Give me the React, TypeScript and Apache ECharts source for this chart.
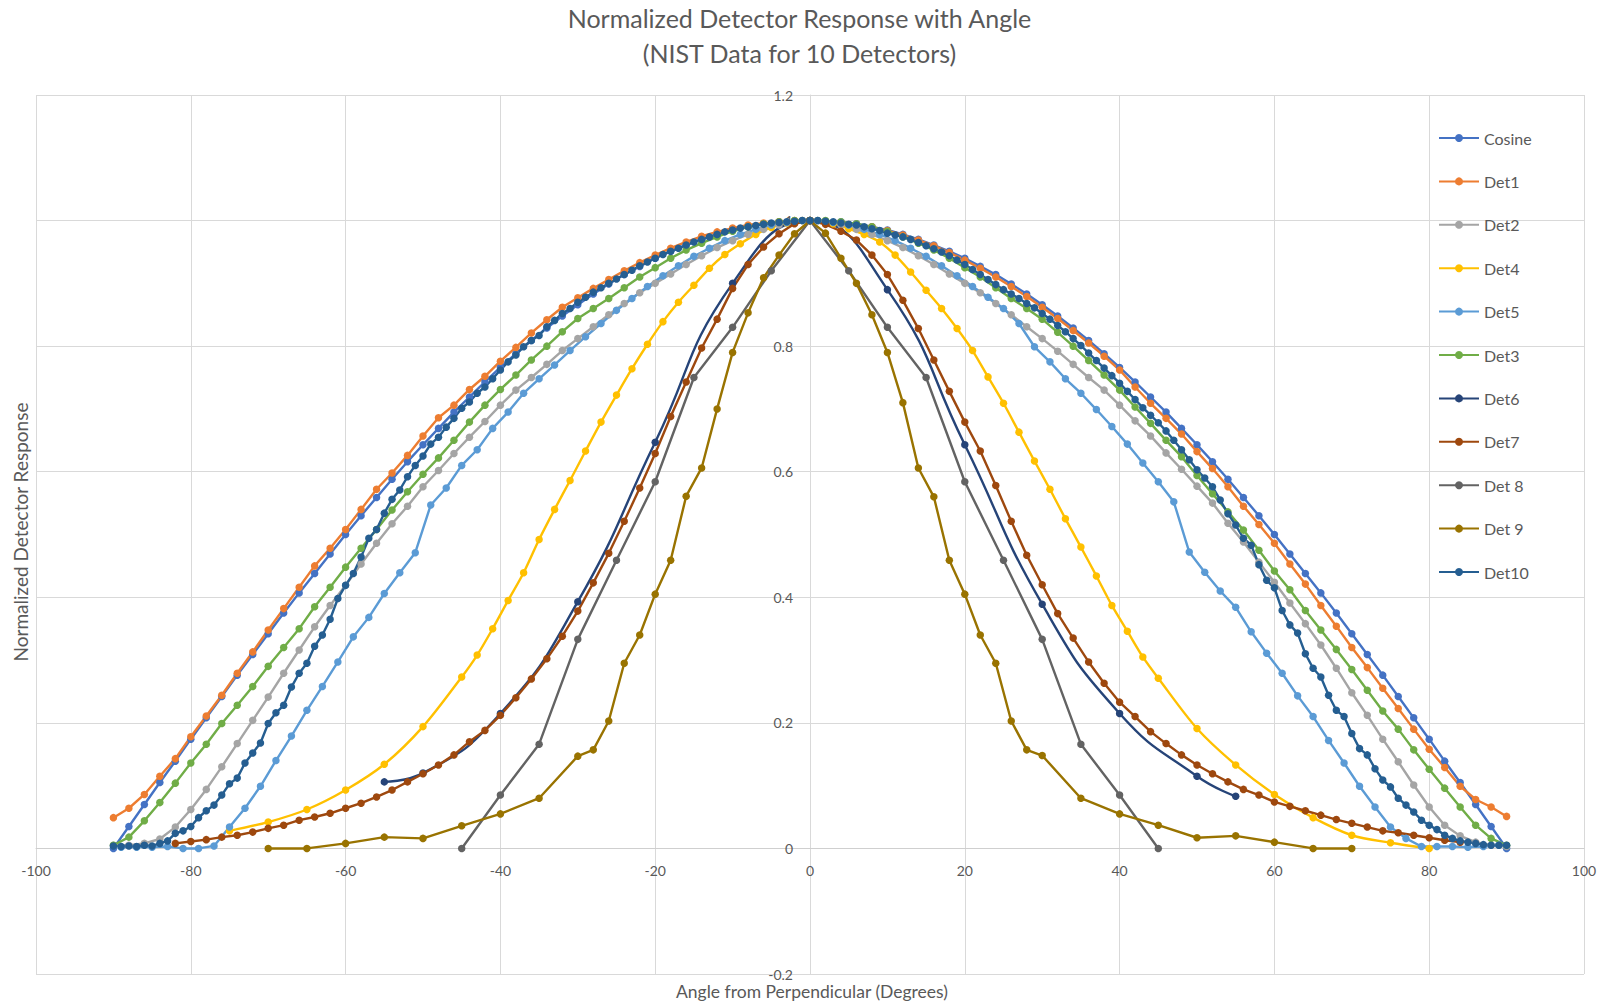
import React, { useEffect, useRef } from 'react';
import * as echarts from 'echarts';

const FONT = 'Lato, "Open Sans", sans-serif';
const TEXT_COLOR = '#595959';
const GRID_COLOR = '#D9D9D9';

const TITLE_LINES = ['Normalized Detector Response with Angle', '(NIST Data for 10 Detectors)'];
const X_TITLE = 'Angle from Perpendicular (Degrees)';
const Y_TITLE = 'Normalized Detector Response';

const SERIES_NAMES = ['Cosine', 'Det1', 'Det2', 'Det4', 'Det5', 'Det3', 'Det6', 'Det7', 'Det 8', 'Det 9', 'Det10'];
const SERIES_COLORS = ['#4472C4', '#ED7D31', '#A5A5A5', '#FFC000', '#5B9BD5', '#70AD47', '#264478', '#9E480E', '#636363', '#997300', '#255E91'];

const X_MIN = -100;
const X_MAX = 100;
const X_STEP = 20;
const Y_MIN = -0.2;
const Y_MAX = 1.2;
const Y_STEP = 0.2;

// angles every 2 degrees
const ANGLES_2 = [
  -90, -88, -86, -84, -82, -80, -78, -76, -74, -72,
  -70, -68, -66, -64, -62, -60, -58, -56, -54, -52,
  -50, -48, -46, -44, -42, -40, -38, -36, -34, -32,
  -30, -28, -26, -24, -22, -20, -18, -16, -14, -12,
  -10, -8, -6, -4, -2, 0, 2, 4, 6, 8,
  10, 12, 14, 16, 18, 20, 22, 24, 26, 28,
  30, 32, 34, 36, 38, 40, 42, 44, 46, 48,
  50, 52, 54, 56, 58, 60, 62, 64, 66, 68,
  70, 72, 74, 76, 78, 80, 82, 84, 86, 88,
  90,
];

// odd angles
const ANGLES_ODD = [
  -89, -87, -85, -83, -81, -79, -77, -75, -73, -71,
  -69, -67, -65, -63, -61, -59, -57, -55, -53, -51,
  -49, -47, -45, -43, -41, -39, -37, -35, -33, -31,
  -29, -27, -25, -23, -21, -19, -17, -15, -13, -11,
  -9, -7, -5, -3, -1, 1, 3, 5, 7, 9,
  11, 13, 15, 17, 19, 21, 23, 25, 27, 29,
  31, 33, 35, 37, 39, 41, 43, 45, 47, 49,
  51, 53, 55, 57, 59, 61, 63, 65, 67, 69,
  71, 73, 75, 77, 79, 81, 83, 85, 87, 89,
];

// every degree
const ANGLES_1 = [
  -90, -89, -88, -87, -86, -85, -84, -83, -82, -81,
  -80, -79, -78, -77, -76, -75, -74, -73, -72, -71,
  -70, -69, -68, -67, -66, -65, -64, -63, -62, -61,
  -60, -59, -58, -57, -56, -55, -54, -53, -52, -51,
  -50, -49, -48, -47, -46, -45, -44, -43, -42, -41,
  -40, -39, -38, -37, -36, -35, -34, -33, -32, -31,
  -30, -29, -28, -27, -26, -25, -24, -23, -22, -21,
  -20, -19, -18, -17, -16, -15, -14, -13, -12, -11,
  -10, -9, -8, -7, -6, -5, -4, -3, -2, -1,
  0, 1, 2, 3, 4, 5, 6, 7, 8, 9,
  10, 11, 12, 13, 14, 15, 16, 17, 18, 19,
  20, 21, 22, 23, 24, 25, 26, 27, 28, 29,
  30, 31, 32, 33, 34, 35, 36, 37, 38, 39,
  40, 41, 42, 43, 44, 45, 46, 47, 48, 49,
  50, 51, 52, 53, 54, 55, 56, 57, 58, 59,
  60, 61, 62, 63, 64, 65, 66, 67, 68, 69,
  70, 71, 72, 73, 74, 75, 76, 77, 78, 79,
  80, 81, 82, 83, 84, 85, 86, 87, 88, 89,
  90,
];

const COSINE_Y = [
  0, 0.035, 0.07, 0.105, 0.139, 0.174, 0.208, 0.242, 0.276, 0.309,
  0.342, 0.375, 0.407, 0.438, 0.469, 0.5, 0.53, 0.559, 0.588, 0.616,
  0.643, 0.669, 0.695, 0.719, 0.743, 0.766, 0.788, 0.809, 0.829, 0.848,
  0.866, 0.883, 0.899, 0.914, 0.927, 0.94, 0.951, 0.961, 0.97, 0.978,
  0.985, 0.99, 0.995, 0.998, 0.999, 1, 0.999, 0.998, 0.995, 0.99,
  0.985, 0.978, 0.97, 0.961, 0.951, 0.94, 0.927, 0.914, 0.899, 0.883,
  0.866, 0.848, 0.829, 0.809, 0.788, 0.766, 0.743, 0.719, 0.695, 0.669,
  0.643, 0.616, 0.588, 0.559, 0.53, 0.5, 0.469, 0.438, 0.407, 0.375,
  0.342, 0.309, 0.276, 0.242, 0.208, 0.174, 0.139, 0.105, 0.07, 0.035,
  0,
];

const DET1_Y = [
  0.049, 0.064, 0.086, 0.115, 0.143, 0.178, 0.211, 0.244, 0.279, 0.313,
  0.348, 0.382, 0.416, 0.45, 0.478, 0.508, 0.54, 0.572, 0.598, 0.626,
  0.657, 0.686, 0.706, 0.731, 0.752, 0.776, 0.798, 0.821, 0.842, 0.862,
  0.877, 0.892, 0.906, 0.92, 0.933, 0.945, 0.956, 0.966, 0.975, 0.982,
  0.988, 0.993, 0.996, 0.998, 1, 1, 0.999, 0.997, 0.994, 0.99,
  0.984, 0.977, 0.969, 0.96, 0.949, 0.937, 0.924, 0.91, 0.895, 0.879,
  0.862, 0.844, 0.825, 0.805, 0.784, 0.762, 0.735, 0.709, 0.685, 0.66,
  0.632, 0.605, 0.576, 0.545, 0.516, 0.486, 0.453, 0.421, 0.387, 0.354,
  0.32, 0.288, 0.255, 0.223, 0.19, 0.158, 0.129, 0.099, 0.078, 0.066,
  0.051,
];

const DET2_Y = [
  0.005, 0.005, 0.008, 0.015, 0.034, 0.062, 0.094, 0.13, 0.167, 0.204,
  0.241, 0.279, 0.316, 0.353, 0.387, 0.419, 0.453, 0.486, 0.517, 0.545,
  0.576, 0.602, 0.629, 0.655, 0.68, 0.706, 0.73, 0.75, 0.771, 0.793,
  0.812, 0.831, 0.85, 0.868, 0.885, 0.9, 0.915, 0.93, 0.944, 0.957,
  0.968, 0.978, 0.986, 0.993, 0.998, 1, 0.998, 0.993, 0.986, 0.978,
  0.968, 0.957, 0.944, 0.93, 0.915, 0.9, 0.885, 0.868, 0.85, 0.831,
  0.812, 0.792, 0.771, 0.75, 0.73, 0.706, 0.681, 0.657, 0.63, 0.604,
  0.577, 0.55, 0.518, 0.488, 0.456, 0.424, 0.391, 0.358, 0.324, 0.287,
  0.248, 0.212, 0.174, 0.138, 0.101, 0.066, 0.037, 0.02, 0.01, 0.005,
  0.003,
];

const DET3_Y = [
  0.005, 0.018, 0.044, 0.073, 0.104, 0.136, 0.166, 0.199, 0.228, 0.258,
  0.29, 0.32, 0.35, 0.385, 0.416, 0.448, 0.478, 0.508, 0.539, 0.568,
  0.596, 0.622, 0.65, 0.679, 0.706, 0.731, 0.754, 0.778, 0.8, 0.823,
  0.844, 0.86, 0.876, 0.893, 0.91, 0.925, 0.94, 0.953, 0.964, 0.974,
  0.983, 0.99, 0.995, 0.998, 1, 1, 1, 0.998, 0.995, 0.99,
  0.983, 0.974, 0.964, 0.953, 0.94, 0.925, 0.91, 0.893, 0.876, 0.86,
  0.843, 0.822, 0.8, 0.777, 0.754, 0.73, 0.703, 0.677, 0.65, 0.624,
  0.594, 0.565, 0.536, 0.507, 0.475, 0.442, 0.412, 0.379, 0.348, 0.317,
  0.285, 0.252, 0.219, 0.19, 0.157, 0.126, 0.096, 0.066, 0.037, 0.016,
  0.005,
];

const DET5_Y = [
  0.002, 0.002, 0.002, 0.003, 0, 0, 0.004, 0.034, 0.064, 0.099,
  0.14, 0.179, 0.22, 0.258, 0.297, 0.337, 0.368, 0.406, 0.439, 0.471,
  0.547, 0.574, 0.61, 0.635, 0.669, 0.695, 0.725, 0.748, 0.77, 0.793,
  0.815, 0.836, 0.857, 0.876, 0.895, 0.912, 0.928, 0.943, 0.956, 0.968,
  0.978, 0.986, 0.993, 0.997, 1, 1, 0.997, 0.993, 0.986, 0.978,
  0.968, 0.956, 0.943, 0.928, 0.912, 0.895, 0.878, 0.86, 0.836, 0.799,
  0.775, 0.748, 0.725, 0.699, 0.672, 0.644, 0.614, 0.584, 0.552, 0.472,
  0.44, 0.41, 0.384, 0.345, 0.311, 0.279, 0.243, 0.21, 0.172, 0.136,
  0.099, 0.066, 0.034, 0.016, 0.003, 0.003, 0.003, 0.002, 0.003, 0.005,
];

const DET10_Y = [
  0.004, 0.003, 0.004, 0.003, 0.005, 0.004, 0.008, 0.012, 0.024, 0.028,
  0.035, 0.049, 0.06, 0.069, 0.085, 0.103, 0.112, 0.136, 0.152, 0.168,
  0.199, 0.216, 0.228, 0.257, 0.279, 0.295, 0.322, 0.34, 0.365, 0.398,
  0.419, 0.438, 0.464, 0.494, 0.508, 0.534, 0.556, 0.571, 0.592, 0.61,
  0.625, 0.644, 0.655, 0.671, 0.685, 0.701, 0.711, 0.725, 0.735, 0.748,
  0.762, 0.775, 0.786, 0.799, 0.809, 0.817, 0.831, 0.841, 0.852, 0.86,
  0.87, 0.878, 0.886, 0.893, 0.9, 0.907, 0.914, 0.921, 0.928, 0.934,
  0.94, 0.946, 0.951, 0.956, 0.961, 0.966, 0.97, 0.974, 0.978, 0.982,
  0.985, 0.988, 0.99, 0.992, 0.994, 0.996, 0.997, 0.998, 0.999, 1,
  1, 1, 0.999, 0.998, 0.996, 0.994, 0.993, 0.99, 0.987, 0.984,
  0.98, 0.977, 0.974, 0.97, 0.965, 0.96, 0.955, 0.95, 0.944, 0.937,
  0.93, 0.922, 0.914, 0.906, 0.898, 0.89, 0.883, 0.876, 0.868, 0.861,
  0.852, 0.843, 0.833, 0.823, 0.812, 0.801, 0.789, 0.777, 0.765, 0.753,
  0.741, 0.728, 0.715, 0.702, 0.69, 0.678, 0.665, 0.65, 0.635, 0.619,
  0.603, 0.59, 0.576, 0.555, 0.533, 0.515, 0.494, 0.483, 0.452, 0.427,
  0.415, 0.379, 0.356, 0.343, 0.31, 0.287, 0.273, 0.244, 0.22, 0.21,
  0.183, 0.159, 0.149, 0.127, 0.109, 0.098, 0.08, 0.069, 0.058, 0.045,
  0.037, 0.03, 0.021, 0.016, 0.012, 0.01, 0.008, 0.006, 0.005, 0.005,
  0.005,
];

const DET4_X = [
  -75, -70, -65, -60, -55, -50,
  -45, -43, -41, -39, -37, -35, -33, -31, -29, -27,
  -25, -23, -21, -19, -17, -15, -13, -11, -9, -7,
  -5, -3, -1, 1, 3, 5, 7, 9, 11, 13,
  15, 17, 19, 21, 23, 25, 27, 29, 31, 33,
  35, 37, 39, 41, 43, 45,
  50, 55, 60, 65, 70, 75, 80,
];
const DET4_Y = [
  0.028, 0.042, 0.062, 0.093, 0.134, 0.194,
  0.273, 0.308, 0.35, 0.395, 0.439, 0.492, 0.54, 0.586, 0.633, 0.679,
  0.722, 0.764, 0.803, 0.839, 0.87, 0.897, 0.924, 0.946, 0.963, 0.978,
  0.989, 0.996, 1, 1, 0.995, 0.987, 0.978, 0.966, 0.945, 0.918,
  0.889, 0.86, 0.828, 0.793, 0.751, 0.709, 0.663, 0.617, 0.572, 0.525,
  0.48, 0.434, 0.387, 0.346, 0.305, 0.271,
  0.191, 0.133, 0.086, 0.049, 0.021, 0.009, 0,
];

const DET6_X = [-55, -50, -40, -30, -20, -10, 0, 10, 20, 30, 40, 50, 55];
const DET6_Y = [0.106, 0.12, 0.215, 0.393, 0.647, 0.9, 1, 0.89, 0.643, 0.389, 0.215, 0.115, 0.083];

const DET7_X = [
  -82, -80, -78, -76, -74, -72, -70, -68, -66, -64,
  -62, -60, -58, -56, -54, -52, -50, -48, -46, -44,
  -42, -40, -38, -36, -34, -32, -30, -28, -26, -24,
  -22, -20, -18, -16, -14, -12, -10, -8, -6, -4,
  -2, 0, 2, 4, 6, 8, 10, 12, 14, 16,
  18, 20, 22, 24, 26, 28, 30, 32, 34, 36,
  38, 40, 42, 44, 46, 48, 50, 52, 54, 56,
  58, 60, 62, 64, 66, 68, 70, 72, 74, 76,
  78, 80, 82, 84,
];
const DET7_Y = [
  0.008, 0.011, 0.014, 0.018, 0.021, 0.026, 0.032, 0.037, 0.045, 0.05,
  0.056, 0.064, 0.072, 0.082, 0.093, 0.106, 0.119, 0.133, 0.149, 0.17,
  0.188, 0.212, 0.24, 0.27, 0.302, 0.338, 0.378, 0.423, 0.47, 0.521,
  0.574, 0.629, 0.688, 0.743, 0.797, 0.843, 0.892, 0.93, 0.958, 0.979,
  0.995, 1, 0.994, 0.983, 0.969, 0.945, 0.914, 0.873, 0.828, 0.778,
  0.728, 0.679, 0.633, 0.578, 0.521, 0.467, 0.42, 0.374, 0.335, 0.297,
  0.263, 0.233, 0.21, 0.186, 0.167, 0.149, 0.133, 0.119, 0.106, 0.094,
  0.085, 0.074, 0.067, 0.06, 0.053, 0.046, 0.04, 0.034, 0.028, 0.025,
  0.021, 0.017, 0.013, 0.01,
];

const DET8_X = [-45, -40, -35, -30, -25, -20, -15, -10, -5, 0, 5, 10, 15, 20, 25, 30, 35, 40, 45];
const DET8_Y = [0, 0.085, 0.166, 0.333, 0.459, 0.584, 0.75, 0.83, 0.92, 1, 0.92, 0.83, 0.75, 0.584, 0.459, 0.333, 0.166, 0.085, 0];

const DET9_X = [
  -70, -65, -60, -55, -50, -45, -40, -35, -30,
  -28, -26, -24, -22, -20, -18, -16, -14, -12, -10, -8, -6, -4, -2,
  0,
  2, 4, 6, 8, 10, 12, 14, 16, 18, 20, 22, 24, 26, 28,
  30, 35, 40, 45, 50, 55, 60, 65, 70,
];
const DET9_Y = [
  0, 0, 0.008, 0.018, 0.016, 0.036, 0.055, 0.08, 0.147,
  0.157, 0.203, 0.295, 0.34, 0.405, 0.459, 0.561, 0.606, 0.7, 0.79, 0.853, 0.909, 0.945, 0.979,
  1,
  0.98, 0.94, 0.9, 0.85, 0.79, 0.71, 0.606, 0.56, 0.459, 0.405, 0.34, 0.295, 0.203, 0.157,
  0.148, 0.08, 0.055, 0.037, 0.017, 0.02, 0.01, 0, 0,
];

const pairs = (xs: number[], ys: number[]) => xs.map((x, i) => [x, ys[i]]);

const SERIES_DATA: { x: number[]; y: number[]; smooth?: number }[] = [
  { x: ANGLES_2, y: COSINE_Y },
  { x: ANGLES_2, y: DET1_Y },
  { x: ANGLES_2, y: DET2_Y },
  { x: DET4_X, y: DET4_Y, smooth: 0.3 },
  { x: ANGLES_ODD, y: DET5_Y },
  { x: ANGLES_2, y: DET3_Y },
  { x: DET6_X, y: DET6_Y, smooth: 0.5 },
  { x: DET7_X, y: DET7_Y },
  { x: DET8_X, y: DET8_Y },
  { x: DET9_X, y: DET9_Y },
  { x: ANGLES_1, y: DET10_Y },
];

const W = 1599;
const H = 1001;
const GRID = { left: 36, right: 15, top: 95, bottom: 27 };

export default function App() {
  const ref = useRef<HTMLDivElement>(null);

  useEffect(() => {
    document.body.style.margin = '0';
    if (!ref.current) return;
    const chart = echarts.init(ref.current, undefined, { renderer: 'svg' });

    const gridW = W - GRID.left - GRID.right;
    const gridH = H - GRID.top - GRID.bottom;
    // place the axes so that they cross at (0, 0), as in the reference
    const xAxisOffset = -((0 - Y_MIN) / (Y_MAX - Y_MIN)) * gridH;
    const yAxisOffset = -((0 - X_MIN) / (X_MAX - X_MIN)) * gridW;

    const series = SERIES_DATA.map((s, i) => ({
      name: SERIES_NAMES[i],
      type: 'line',
      data: pairs(s.x, s.y),
      smooth: s.smooth ?? false,
      symbol: 'circle',
      symbolSize: 7.5,
      showSymbol: true,
      color: SERIES_COLORS[i],
      lineStyle: { width: 2.4, color: SERIES_COLORS[i] },
      itemStyle: { color: SERIES_COLORS[i] },
      emphasis: { disabled: true },
    }));

    chart.setOption({
      animation: false,
      backgroundColor: '#ffffff',
      title: {
        text: TITLE_LINES.join('\n'),
        left: 'center',
        top: 0,
        padding: 0,
        textStyle: {
          fontFamily: FONT,
          fontSize: 25,
          fontWeight: 'normal',
          color: TEXT_COLOR,
          lineHeight: 35,
        },
      },
      grid: { ...GRID, containLabel: false, outerBoundsMode: 'none' },
      xAxis: {
        type: 'value',
        min: X_MIN,
        max: X_MAX,
        interval: X_STEP,
        position: 'bottom',
        offset: xAxisOffset,
        axisLine: { onZero: false, lineStyle: { color: '#CFCFCF', width: 1 } },
        axisTick: { show: false },
        axisLabel: { color: TEXT_COLOR, fontSize: 14, fontFamily: FONT, margin: 15 },
        splitLine: { show: true, lineStyle: { color: GRID_COLOR, width: 1 } },
      },
      yAxis: {
        type: 'value',
        min: Y_MIN,
        max: Y_MAX,
        interval: Y_STEP,
        position: 'left',
        offset: yAxisOffset,
        axisLine: { onZero: false, show: true, lineStyle: { color: '#D9D9D9', width: 1 } },
        axisTick: { show: false },
        axisLabel: {
          color: TEXT_COLOR,
          fontSize: 14,
          lineHeight: 14,
          fontFamily: FONT,
          margin: 17,
          formatter: (v: number) => String(Math.round(v * 10) / 10),
        },
        splitLine: { show: true, lineStyle: { color: GRID_COLOR, width: 1 } },
      },
      legend: {
        orient: 'vertical',
        left: 1438,
        top: 130,
        padding: 0,
        itemWidth: 40,
        itemHeight: 10,
        itemGap: 27.4,
        selectedMode: false,
        data: SERIES_NAMES,
        textStyle: { color: TEXT_COLOR, fontSize: 16, fontFamily: FONT },
      },
      graphic: [
        {
          type: 'text',
          x: 812,
          y: 1000,
          style: {
            text: X_TITLE,
            font: `17.5px ${FONT}`,
            lineHeight: 17.5,
            fill: TEXT_COLOR,
            textAlign: 'center',
            textVerticalAlign: 'bottom',
            align: 'center',
            verticalAlign: 'bottom',
          },
        },
        {
          type: 'text',
          x: 20,
          y: 532,
          rotation: Math.PI / 2,
          style: {
            text: Y_TITLE,
            font: `19px ${FONT}`,
            fill: TEXT_COLOR,
            textAlign: 'center',
            textVerticalAlign: 'middle',
            align: 'center',
            verticalAlign: 'middle',
          },
        },
      ],
      series,
    });

    return () => chart.dispose();
  }, []);

  return (
    <div
      ref={ref}
      style={{ position: 'fixed', left: 0, top: 0, width: W, height: H, background: '#fff' }}
    />
  );
}
